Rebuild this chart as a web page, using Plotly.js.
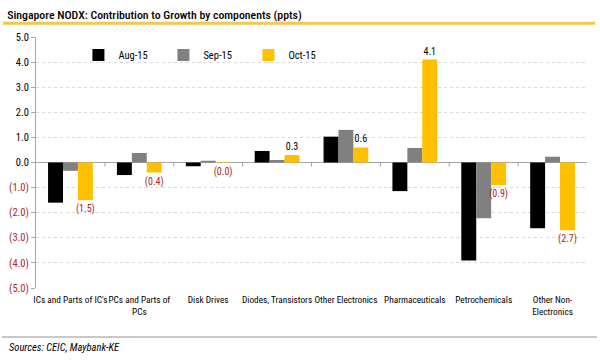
<!DOCTYPE html>
<html>
<head>
<meta charset="utf-8">
<script src="https://cdn.plot.ly/plotly-3.0.1.min.js"></script>
<style>html,body{margin:0;padding:0;background:#fff;}#chart{width:600px;height:360px;}</style>
</head>
<body>
<div id="chart"></div>
<script>
const categories = ["ICs and Parts of IC's", "PCs and Parts of<br>PCs", "Disk Drives", "Diodes, Transistors", "Other Electronics", "Pharmaceuticals", "Petrochemicals", "Other Non-<br>Electronics"];
const aug15 = [-1.6, -0.5, -0.15, 0.46, 1.03, -1.14, -3.9, -2.62];
const sep15 = [-0.33, 0.38, 0.07, 0.1, 1.3, 0.58, -2.22, 0.23];
const oct15 = [-1.5, -0.4, -0.02, 0.3, 0.6, 4.1, -0.9, -2.7];
const seriesNames = ["Aug-15", "Sep-15", "Oct-15"];
const seriesColors = ["#000000", "#808080", "#FFC000"];
const yTickVals = [5, 4, 3, 2, 1, 0, -1, -2, -3, -4, -5];

const FONT = "Roboto Condensed, DejaVu Sans Condensed, sans-serif";
const RED = "#a5282e";
function fmt(v) {
  const s = Math.abs(v).toFixed(1);
  return v < 0 ? "(" + s + ")" : s;
}
const yTickText = yTickVals.map(v => v < 0 ? '<span style="color:' + RED + '">' + fmt(v) + '</span>' : fmt(v));

const data = [aug15, sep15, oct15].map((vals, i) => ({
  type: "bar",
  name: seriesNames[i],
  x: categories,
  y: vals,
  marker: { color: seriesColors[i] },
  text: i === 2 ? vals.map(fmt) : undefined,
  textposition: i === 2 ? "outside" : "none",
  constraintext: "none",
  textfont: i === 2 ? { family: FONT, size: 10, color: vals.map(v => v < 0 ? RED : "#000") } : undefined,
  cliponaxis: false,
  hoverinfo: "none"
}));

const tickShapes = categories.slice(0, -1).map((c, i) => ({
  type: "line", xref: "x", yref: "y", x0: i + 0.5, x1: i + 0.5, y0: 0, y1: -0.16,
  line: { color: "#a6a6a6", width: 1 }
}));

const layout = {
  width: 600, height: 360,
  margin: { l: 36, r: 13, t: 37, b: 72 },
  paper_bgcolor: "#fff", plot_bgcolor: "#fff",
  font: { family: FONT, size: 10.5, color: "#000" },
  barmode: "group", bargap: 0.35, bargroupgap: 0,
  showlegend: true,
  legend: { orientation: "h", x: 0.077, xanchor: "left", y: 0.928, yanchor: "middle",
            entrywidth: 40, font: { family: FONT, size: 10.5 }, itemwidth: 30, bgcolor: "rgba(0,0,0,0)" },
  xaxis: { type: "category", showline: false, showgrid: false, ticks: "", tickangle: 0,
           ticklabelstandoff: 5,
           tickfont: { family: FONT, size: 9.3 }, fixedrange: true },
  yaxis: { range: [-5, 5], tickvals: yTickVals, ticktext: yTickText, showgrid: true,
           gridcolor: "#d9d9d9", griddash: "dot", zeroline: true, zerolinecolor: "#a6a6a6", zerolinewidth: 1.5,
           showline: true, linecolor: "#a6a6a6", ticks: "outside", ticklen: 4, tickcolor: "#a6a6a6",
           tickfont: { family: FONT, size: 10.5 }, fixedrange: true },
  title: { text: "Singapore NODX: Contribution to Growth by components (ppts)", x: 0.012, xanchor: "left",
           y: 0.958, yanchor: "middle", font: { family: FONT, size: 11.8, color: "#000", weight: 500 } },
  shapes: tickShapes.concat([
    { type: "line", xref: "paper", yref: "paper", x0: -0.06, x1: 1.015, y0: 1.055, y1: 1.055,
      line: { color: "#f2c94c", width: 3 } },
    { type: "line", xref: "paper", yref: "paper", x0: -0.062, x1: 1.018, y0: -0.195, y1: -0.195,
      line: { color: "#c8c8c8", width: 2 } }
  ]),
  annotations: [
    { text: "<i>Sources: CEIC, Maybank-KE</i>", xref: "paper", yref: "paper", x: -0.053, y: -0.238,
      xanchor: "left", yanchor: "middle", showarrow: false, font: { family: FONT, size: 10.5 } }
  ]
};

Plotly.newPlot("chart", data, layout, { displayModeBar: false, staticPlot: true });
</script>
</body>
</html>
